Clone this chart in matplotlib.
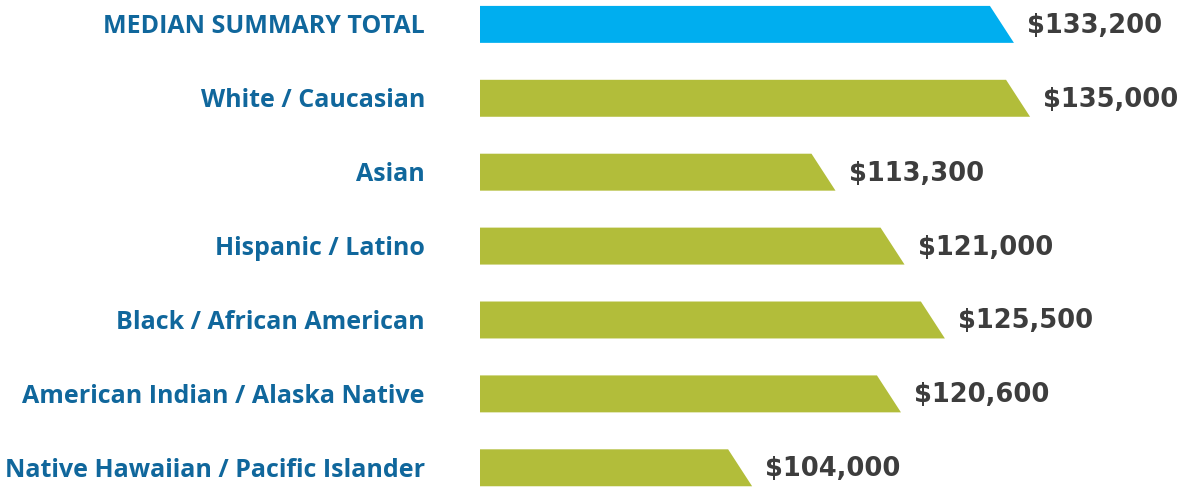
import matplotlib.pyplot as plt

# ---------------------
# DATA
# ---------------------
categories = [
    "MEDIAN SUMMARY TOTAL",
    "White / Caucasian",
    "Asian",
    "Hispanic / Latino",
    "Black / African American",
    "American Indian / Alaska Native",
    "Native Hawaiian / Pacific Islander",
]
values = [133200, 135000, 113300, 121000, 125500, 120600, 104000]
value_labels = ["$133,200", "$135,000", "$113,300", "$121,000",
                "$125,500", "$120,600", "$104,000"]

# ---------------------
# STYLE
# ---------------------
blue = "#00aeef"
green = "#b2bd3a"
label_blue = "#10679c"
num_grey = "#3d3d3d"

base = 73650          # value where the bars start (left edge of axes)
px_per_unit = 0.008966
slant = 24 / px_per_unit   # top-right corner pulled back by ~24 px
bar_h = 0.5

fig = plt.figure(figsize=(11.82, 4.87), dpi=100)
ax = fig.add_axes([480 / 1182, 0, 702 / 1182, 1])
ax.set_xlim(base, base + 702 / px_per_unit)
ax.set_ylim(6.26, -0.33)
ax.axis("off")

for i, (cat, val, lab) in enumerate(zip(categories, values, value_labels)):
    color = blue if i == 0 else green
    top = i - bar_h / 2
    bot = i + bar_h / 2
    xs = [base, val - slant, val, base]
    ys = [top, top, bot, bot]
    ax.fill(xs, ys, color=color, lw=0)
    ax.text(val + 1450, i + 0.02, lab, ha="left", va="center",
            fontsize=18.5, fontweight="bold", color=num_grey,
            family="DejaVu Sans")
    ax.text(base - 55 / px_per_unit, i + 0.03, cat, ha="right", va="center",
            fontsize=18, fontweight="bold", color=label_blue,
            family="Open Sans")

fig.savefig("out.png", dpi=100)
